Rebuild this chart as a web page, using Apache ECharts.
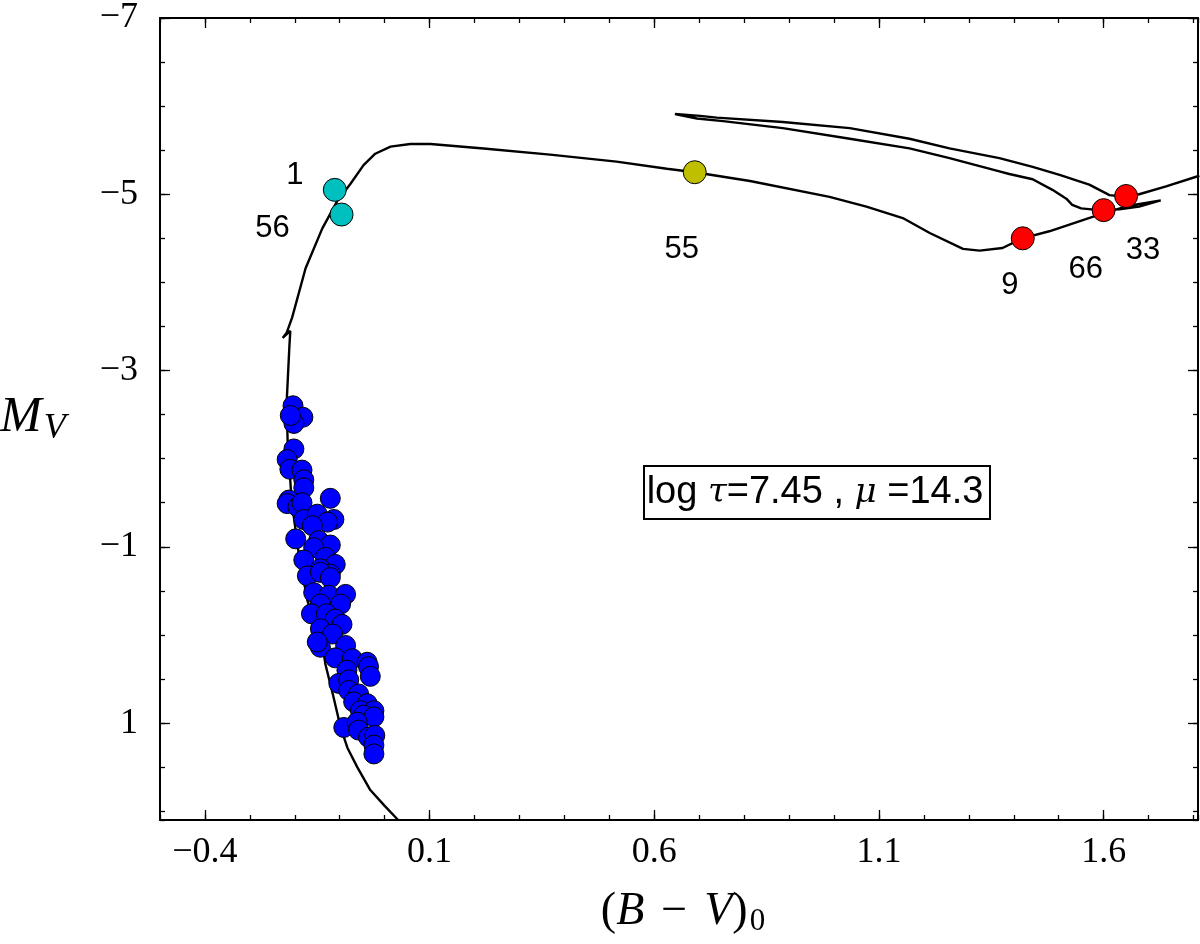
<!DOCTYPE html>
<html><head><meta charset="utf-8">
<script src="https://cdn.jsdelivr.net/npm/echarts@6/dist/echarts.min.js"></script>
<style>html,body{margin:0;padding:0;background:#fff}#c{width:1200px;height:944px}</style>
</head><body><div id="c"></div>
<script>
// ---- data ----
const xTicks = [-0.4, 0.1, 0.6, 1.1, 1.6];
const yTicks = [-7, -5, -3, -1, 1];

// isochrone track (B-V)0 , Mv  in drawing order
const isochrone = [
  [0.030, 2.10], [0.000, 1.94], [-0.032, 1.76], [-0.061, 1.50], [-0.083, 1.28],
  [-0.098, 1.05], [-0.116, 0.66], [-0.132, 0.33], [-0.138, 0.12], [-0.172, -0.39],
  [-0.192, -0.95], [-0.207, -1.52], [-0.216, -2.20], [-0.218, -2.65], [-0.212, -3.28],
  [-0.210, -3.45], [-0.227, -3.37], [-0.218, -3.43], [-0.206, -3.60], [-0.176, -4.16],
  [-0.139, -4.61], [-0.106, -4.92], [-0.076, -5.12], [-0.047, -5.33], [-0.021, -5.46],
  [0.013, -5.54], [0.057, -5.57], [0.102, -5.57], [0.220, -5.52], [0.368, -5.45],
  [0.516, -5.37], [0.628, -5.29], [0.690, -5.25], [0.813, -5.15], [0.990, -4.97],
  [1.072, -4.86], [1.153, -4.73], [1.213, -4.56], [1.287, -4.38], [1.324, -4.36],
  [1.375, -4.39], [1.419, -4.50], [1.479, -4.58], [1.597, -4.78], [1.657, -4.87],
  [1.727, -4.93], [1.679, -4.86], [1.635, -4.83], [1.590, -4.82], [1.550, -4.84],
  [1.530, -4.88], [1.517, -4.95], [1.486, -5.05], [1.442, -5.17], [1.390, -5.23],
  [1.368, -5.26], [1.257, -5.41], [1.168, -5.52], [1.035, -5.63], [0.886, -5.75],
  [0.753, -5.83], [0.695, -5.86], [0.646, -5.91], [0.702, -5.89], [0.739, -5.87],
  [0.886, -5.82], [1.035, -5.75], [1.168, -5.63], [1.257, -5.52], [1.368, -5.41],
  [1.442, -5.31], [1.502, -5.22], [1.568, -5.11], [1.613, -4.99], [1.650, -4.97],
  [1.679, -5.00], [1.739, -5.09], [1.813, -5.21]
];

// main-sequence members (blue)
const msStars = [
  [-0.204, -2.60], [-0.182, -2.47], [-0.202, -2.40], [-0.210, -2.49], [-0.202, -2.11],
  [-0.217, -1.99], [-0.211, -1.88], [-0.184, -1.87], [-0.180, -1.76], [-0.180, -1.67],
  [-0.213, -1.53], [-0.217, -1.49], [-0.193, -1.45], [-0.184, -1.50], [-0.121, -1.55],
  [-0.180, -1.31], [-0.150, -1.37], [-0.113, -1.31], [-0.127, -1.28], [-0.161, -1.24],
  [-0.198, -1.09], [-0.147, -1.07], [-0.121, -1.02], [-0.158, -0.99], [-0.180, -0.85],
  [-0.132, -0.88], [-0.110, -0.80], [-0.143, -0.75], [-0.172, -0.67], [-0.121, -0.69],
  [-0.143, -0.71], [-0.121, -0.65], [-0.158, -0.48], [-0.124, -0.45], [-0.087, -0.46],
  [-0.098, -0.35], [-0.143, -0.35], [-0.163, -0.24], [-0.130, -0.24], [-0.110, -0.18],
  [-0.095, -0.12], [-0.143, -0.07], [-0.116, -0.01], [-0.143, 0.14], [-0.150, 0.08],
  [-0.087, 0.12], [-0.110, 0.26], [-0.072, 0.27], [-0.039, 0.31], [-0.036, 0.36],
  [-0.032, 0.47], [-0.084, 0.40], [-0.102, 0.55], [-0.080, 0.51], [-0.080, 0.63],
  [-0.058, 0.67], [-0.069, 0.76], [-0.039, 0.78], [-0.054, 0.86], [-0.024, 0.86],
  [-0.047, 0.91], [-0.024, 0.93], [-0.091, 1.05], [-0.061, 0.99], [-0.058, 1.08],
  [-0.036, 1.16], [-0.022, 1.14], [-0.024, 1.25], [-0.024, 1.35]
];

const cyanStars = [[-0.111, -5.05], [-0.096, -4.77]];
const cyanLabels = ['1', '56'];
const yellowStars = [[0.690, -5.25]];
const yellowLabels = ['55'];
const redStars = [[1.420, -4.50], [1.600, -4.82], [1.650, -4.98]];
const redLabels = ['9', '66', '33'];

// ---- layout / style ----
const labelOffsets = { '1': [-40, -14], '56': [-69, 14], '55': [-13, 77], '9': [-13, 47], '66': [-18, 59], '33': [17, 54] };
const X_MIN = -0.5, X_MAX = 1.81, Y_MIN = -7, Y_MAX = 2.1;
const tickFont = 'Liberation Serif';
const minus = v => String(v).replace('-', '\u2212');

function xAxisDef(pos, major, labels) {
  const a = {
    type: 'value', position: pos, min: X_MIN, max: X_MAX,
    axisLine: { show: major, onZero: false, lineStyle: { color: '#000', width: 2 } },
    axisTick: { show: true, inside: true, length: major ? 10 : 5, lineStyle: { color: '#000', width: 1.3 } },
    axisLabel: { show: labels, color: '#000', fontFamily: tickFont, fontSize: 36, margin: 15, formatter: minus },
    splitLine: { show: false }
  };
  if (major) { a.axisTick.customValues = xTicks; a.axisLabel.customValues = xTicks; }
  else { a.interval = 0.1; }
  return a;
}
function yAxisDef(pos, major, labels) {
  const a = {
    type: 'value', position: pos, min: Y_MIN, max: Y_MAX, inverse: true,
    axisLine: { show: major, onZero: false, lineStyle: { color: '#000', width: 2 } },
    axisTick: { show: true, inside: true, length: major ? 10 : 5, lineStyle: { color: '#000', width: 1.3 } },
    axisLabel: { show: labels, color: '#000', fontFamily: tickFont, fontSize: 36, margin: 22, formatter: minus },
    splitLine: { show: false }
  };
  if (major) { a.axisTick.customValues = yTicks; a.axisLabel.customValues = yTicks; }
  else { a.interval = 0.5; }
  return a;
}

function labelled(name, pts, labels, color) {
  return {
    name, type: 'scatter', xAxisIndex: 0, yAxisIndex: 0, z: 5,
    symbolSize: 23,
    itemStyle: { color, borderColor: '#000', borderWidth: 1, opacity: 1 },
    data: pts.map((p, i) => ({
      value: p, name: labels[i],
      label: { offset: labelOffsets[labels[i]] }
    })),
    label: { show: true, position: 'inside', formatter: '{b}', color: '#000',
             fontFamily: 'Liberation Sans', fontSize: 31 }
  };
}

const chart = echarts.init(document.getElementById('c'), null, { renderer: 'canvas' });
chart.setOption({
  animation: false,
  backgroundColor: '#fff',
  grid: { left: 160, right: 2, top: 16, bottom: 124, containLabel: false },
  xAxis: [
    xAxisDef('bottom', true, true),
    xAxisDef('bottom', false, false),
    xAxisDef('top', true, false),
    xAxisDef('top', false, false)
  ],
  yAxis: [
    yAxisDef('left', true, true),
    yAxisDef('left', false, false),
    yAxisDef('right', true, false),
    yAxisDef('right', false, false)
  ],
  series: [
    {
      name: 'isochrone', type: 'line', xAxisIndex: 0, yAxisIndex: 0, z: 2,
      data: isochrone, showSymbol: false, symbol: 'none', smooth: false, clip: true,
      lineStyle: { color: '#000', width: 2.4 }
    },
    {
      name: 'members', type: 'scatter', xAxisIndex: 0, yAxisIndex: 0, z: 3,
      data: msStars, symbolSize: 20,
      itemStyle: { color: '#0000ff', borderColor: '#000', borderWidth: 1, opacity: 1 }
    },
    labelled('cyan', cyanStars, cyanLabels, '#00bfbf'),
    labelled('yellow', yellowStars, yellowLabels, '#bfbf00'),
    labelled('red', redStars, redLabels, '#ff0000')
  ],
  graphic: [
    { type: 'rect', shape: { x: 644, y: 466, width: 346, height: 53 },
      style: { fill: '#fff', stroke: '#000', lineWidth: 2 }, z: 10 },
    { type: 'text', x: 815, y: 493, z: 11,
      style: {
        text: '{a|log }{g|\u03c4}{a|=7.45 , }{g|\u03bc}{a| =14.3}',
        align: 'center', verticalAlign: 'middle', textAlign: 'center', textVerticalAlign: 'middle',
        rich: {
          a: { fontFamily: 'Liberation Sans', fontSize: 38, fill: '#000', color: '#000' },
          g: { fontFamily: 'DejaVu Serif', fontStyle: 'italic', fontSize: 34, fill: '#000', color: '#000' }
        }
      } },
    { type: 'text', x: 683, y: 912, z: 11,
      style: {
        text: '{n|(}{i|B}{sp| }{n|\u2212}{sp| }{i|V}{n|)}{s|0}',
        align: 'center', verticalAlign: 'middle', textAlign: 'center', textVerticalAlign: 'middle',
        rich: {
          n: { fontFamily: 'Liberation Serif', fontSize: 46, fill: '#000', color: '#000' },
          i: { fontFamily: 'Liberation Serif', fontStyle: 'italic', fontSize: 46, fill: '#000', color: '#000' },
          sp: { fontFamily: 'Liberation Serif', fontSize: 46, width: 17 },
          s: { fontFamily: 'Liberation Serif', fontSize: 31, fill: '#000', color: '#000', padding: [20, 0, 0, 2] }
        }
      } },
    { type: 'text', x: 0, y: 418, z: 11,
      style: {
        text: '{m|M}{v|V}',
        align: 'left', verticalAlign: 'middle', textAlign: 'left', textVerticalAlign: 'middle',
        rich: {
          m: { fontFamily: 'Liberation Serif', fontStyle: 'italic', fontSize: 50, fill: '#000', color: '#000' },
          v: { fontFamily: 'Liberation Serif', fontStyle: 'italic', fontSize: 36, fill: '#000', color: '#000', padding: [22, 0, 0, 2] }
        }
      } }
  ]
});
</script>
</body></html>
